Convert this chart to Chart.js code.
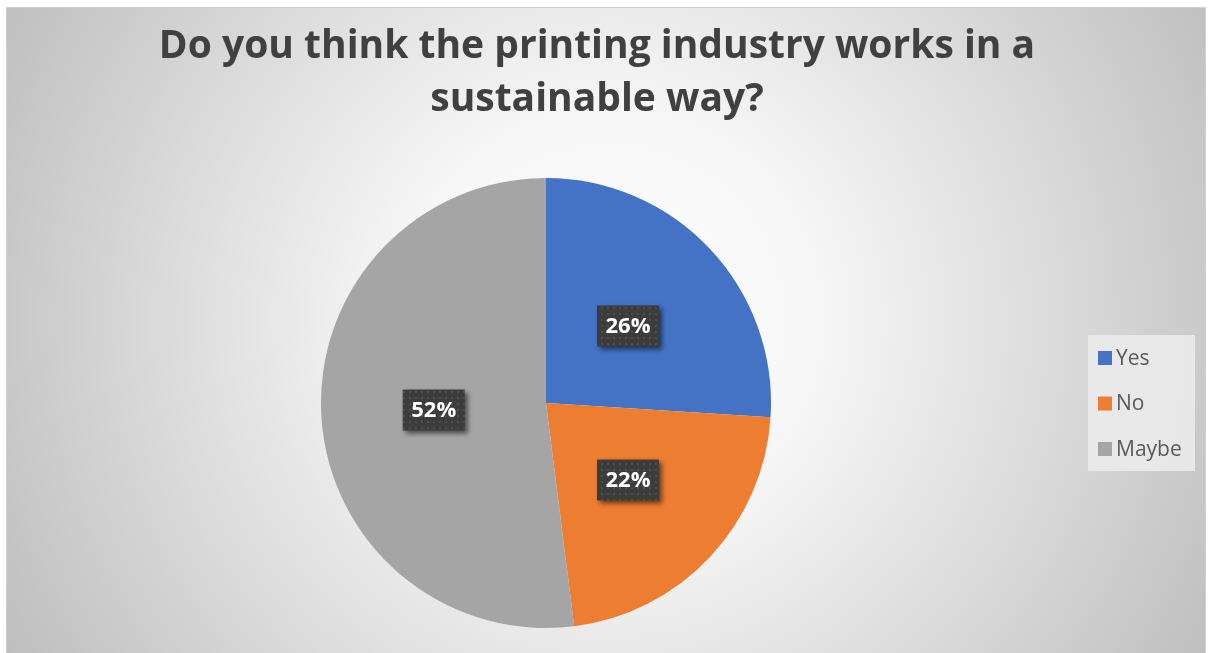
<!DOCTYPE html>
<html>
<head>
<meta charset="utf-8">
<script src="https://cdn.jsdelivr.net/npm/chart.js@4.4.0/dist/chart.umd.min.js"></script>
<style>
  html, body { margin: 0; padding: 0; background: #ffffff; }
  #wrap { position: relative; width: 1209px; height: 653px; }
</style>
</head>
<body>
<div id="wrap"><canvas id="pieChart" width="1209" height="653"></canvas></div>
<script>
const titleLines = ['Do you think the printing industry works in a', 'sustainable way?'];
const categories = ['Yes', 'No', 'Maybe'];
const shares = [26, 22, 52];
const sliceColors = ['#4472c4', '#ed7d31', '#a5a5a5'];

// frame with radial grey gradient, drawn behind everything
const backgroundFrame = {
    id: 'backgroundFrame',
    beforeDraw(chart) {
        const c = chart.ctx;
        const x0 = 6, y0 = 7, x1 = 1206, y1 = 653;
        const g = c.createRadialGradient(610, 320, 0, 610, 320, 700);
        g.addColorStop(0, '#ffffff');
        g.addColorStop(0.3, '#f6f6f6');
        g.addColorStop(1, '#bdbdbd');
        c.save();
        c.fillStyle = g;
        c.fillRect(x0, y0, x1 - x0, y1 - y0);
        c.strokeStyle = '#d0d0d0';
        c.lineWidth = 1;
        c.strokeRect(x0 + 0.5, y0 + 0.5, x1 - x0 - 1, y1 - y0);
        c.restore();
    }
};

// title centred on the frame rather than on the pie
const frameTitle = {
    id: 'frameTitle',
    afterDraw(chart) {
        const c = chart.ctx;
        c.save();
        c.font = 'bold 39px "Open Sans"';
        c.fillStyle = '#404040';
        c.textAlign = 'center';
        c.textBaseline = 'middle';
        titleLines.forEach((line, i) => c.fillText(line, 597, 47 + i * 53));
        c.restore();
    }
};

function dotPattern(c) {
    const tile = document.createElement('canvas');
    tile.width = 6; tile.height = 6;
    const t = tile.getContext('2d');
    t.fillStyle = '#3c3c3c';
    t.fillRect(0, 0, 6, 6);
    t.fillStyle = '#4e4e4e';
    t.fillRect(1, 1, 2, 2);
    return c.createPattern(tile, 'repeat');
}

// dark callout boxes with the percentages
const valueBoxes = {
    id: 'valueBoxes',
    afterDatasetsDraw(chart) {
        const c = chart.ctx;
        const meta = chart.getDatasetMeta(0);
        const pat = dotPattern(c);
        c.save();
        c.font = 'bold 22px "Open Sans"';
        c.textAlign = 'center';
        c.textBaseline = 'middle';
        meta.data.forEach((arc, i) => {
            const p = arc.tooltipPosition();
            const txt = shares[i] + '%';
            const w = 62, h = 41;
            c.save();
            c.shadowColor = 'rgba(0,0,0,0.55)';
            c.shadowBlur = 5;
            c.shadowOffsetX = 3;
            c.shadowOffsetY = 3;
            c.fillStyle = pat;
            c.fillRect(p.x - w / 2, p.y - h / 2, w, h);
            c.restore();
            c.fillStyle = '#ffffff';
            c.fillText(txt, p.x, p.y + 1);
        });
        c.restore();
    }
};

// legend panel on the right
const sideLegend = {
    id: 'sideLegend',
    afterDraw(chart) {
        const c = chart.ctx;
        c.save();
        c.fillStyle = 'rgba(236,236,236,0.85)';
        c.fillRect(1088, 335, 107, 136);
        c.font = '21px "Open Sans"';
        c.textBaseline = 'middle';
        categories.forEach((name, i) => {
            const y = 358 + i * 45.5;
            c.fillStyle = sliceColors[i];
            c.fillRect(1098, y - 7, 14, 14);
            c.fillStyle = '#595959';
            c.fillText(name, 1116, y + 1);
        });
        c.restore();
    }
};

new Chart(document.getElementById('pieChart'), {
    type: 'pie',
    data: {
        labels: categories,
        datasets: [{
            data: shares,
            backgroundColor: sliceColors,
            borderWidth: 0
        }]
    },
    options: {
        responsive: false,
        animation: false,
        layout: { padding: { left: 0, right: 117, top: 178, bottom: 25 } },
        plugins: {
            legend: { display: false },
            tooltip: { enabled: false },
            title: { display: false }
        }
    },
    plugins: [backgroundFrame, valueBoxes, sideLegend, frameTitle]
});
</script>
</body>
</html>
